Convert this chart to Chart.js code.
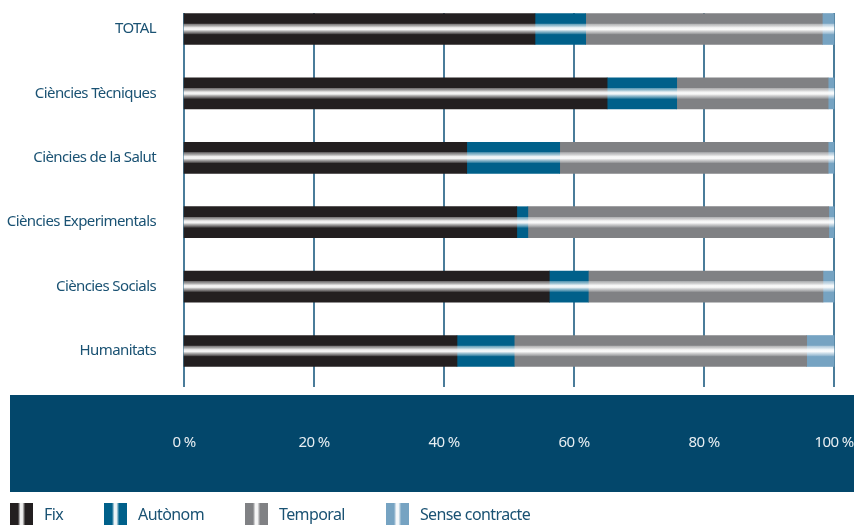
<!DOCTYPE html>
<html>
<head>
<meta charset="utf-8">
<script src="https://cdn.jsdelivr.net/npm/chart.js@4.4.1/dist/chart.umd.min.js"></script>
<style>
  html, body { margin: 0; padding: 0; background: #ffffff; }
  #wrap { position: relative; width: 854px; height: 525px; overflow: hidden; }
  #legend { position: absolute; left: 10px; top: 503px; display: flex; align-items: center; height: 22px;
    font-family: "Noto Sans", Roboto, sans-serif; letter-spacing: -0.6px;
    font-size: 16px; color: #1a5273; }
  .item { display: flex; align-items: center; margin-right: 41px; }
  .icon { width: 23px; height: 22px; margin-right: 11px; }
</style>
</head>
<body>
<div id="wrap">
  <canvas id="c" width="854" height="525"></canvas>
  <div id="legend"></div>
</div>
<script>
const categories = ["TOTAL", "Ciències Tècniques", "Ciències de la Salut", "Ciències Experimentals", "Ciències Socials", "Humanitats"];
const seriesNames = ["Fix", "Autònom", "Temporal", "Sense contracte"];
const fix      = [54.0, 65.1, 43.5, 51.2, 56.2, 42.0];
const autonom  = [7.8, 10.7, 14.3, 1.7, 6.0, 8.8];
const temporal = [36.4, 23.3, 41.3, 46.3, 36.1, 45.0];
const sense    = [1.8, 0.9, 0.9, 0.8, 1.7, 4.2];
const tickValues = [0, 20, 40, 60, 80, 100];
const tickLabels = ["0 %", "20 %", "40 %", "60 %", "80 %", "100 %"];

const colors = ["#231f20", "#00608a", "#808184", "#76a3c2"];
const FONT = '"Noto Sans", Roboto, sans-serif';
const BAR_T = 31;
const LETTER = '-0.6px';

function hexToRgb(h) { const n = parseInt(h.slice(1), 16); return [(n >> 16) & 255, (n >> 8) & 255, n & 255]; }
function mix(hex, t) { const [r, g, b] = hexToRgb(hex); const f = v => Math.round(v + (255 - v) * t); return `rgb(${f(r)},${f(g)},${f(b)})`; }
function addStops(g, c) {
  g.addColorStop(0, c); g.addColorStop(0.32, c);
  g.addColorStop(0.33, mix(c, 0.35)); g.addColorStop(0.40, mix(c, 0.62));
  g.addColorStop(0.46, mix(c, 0.93)); g.addColorStop(0.52, mix(c, 0.95));
  g.addColorStop(0.57, mix(c, 0.65)); g.addColorStop(0.63, mix(c, 0.35));
  g.addColorStop(0.67, mix(c, 0.12)); g.addColorStop(0.68, c); g.addColorStop(1, c);
}
function stripe(c) {
  return (ctx) => {
    const chart = ctx.chart;
    if (!chart.chartArea || ctx.type !== 'data') return c;
    const y = chart.scales.y.getPixelForValue(ctx.dataIndex);
    const g = chart.ctx.createLinearGradient(0, y - BAR_T / 2, 0, y + BAR_T / 2);
    addStops(g, c);
    return g;
  };
}

const seriesData = [fix, autonom, temporal, sense];
const datasets = seriesData.map((d, i) => ({
  label: seriesNames[i], data: d, backgroundColor: stripe(colors[i]), borderWidth: 0,
  barThickness: BAR_T, clip: false
}));

const bandPlugin = {
  id: 'band',
  beforeUpdate(chart) { chart.ctx.letterSpacing = LETTER; },
  beforeDraw(chart) {
    const c = chart.ctx;
    c.letterSpacing = LETTER;
    c.save(); c.fillStyle = '#03476b'; c.fillRect(10, 395, 844, 97); c.restore();
  },
  beforeDatasetsDraw(chart) {
    const c = chart.ctx, xs = chart.scales.x;
    c.save(); c.strokeStyle = '#4a7c9a'; c.lineWidth = 2;
    tickValues.forEach(v => {
      const x = Math.round(xs.getPixelForValue(v));
      c.beginPath(); c.moveTo(x, 13); c.lineTo(x, 387); c.stroke();
    });
    c.restore();
  }
};

const tickFont = { family: FONT, size: 15, lineHeight: 1.2 };

new Chart(document.getElementById('c'), {
  type: 'bar',
  data: { labels: categories, datasets },
  plugins: [bandPlugin],
  options: {
    indexAxis: 'y', responsive: false, animation: false,
    layout: { padding: { top: 29, right: 20, bottom: 73, left: 0 } },
    plugins: { legend: { display: false }, tooltip: { enabled: false } },
    scales: {
      x: {
        stacked: true, min: 0, max: 100,
        afterBuildTicks: (s) => { s.ticks = tickValues.map(v => ({ value: v })); },
        afterFit: (s) => { s.paddingLeft = 0; s.paddingRight = 0; },
        ticks: { callback: (v) => tickLabels[tickValues.indexOf(v)], padding: 0, color: '#e8eef2',
          font: tickFont, maxRotation: 0, autoSkip: false },
        grid: { display: false, drawTicks: true, tickLength: 83 }, border: { display: false }
      },
      y: {
        stacked: true, offset: false,
        afterFit: (s) => { s.width = 184; },
        ticks: { padding: 0, color: '#1a5273', font: tickFont },
        grid: { display: false, drawTicks: true, tickLength: 28 }, border: { display: false }
      }
    }
  }
});

const leg = document.getElementById('legend');
seriesNames.forEach((n, i) => {
  const it = document.createElement('div'); it.className = 'item';
  const ic = document.createElement('div'); ic.className = 'icon';
  const c = colors[i];
  ic.style.background = `linear-gradient(to right, ${c} 0%, ${c} 35%, ${mix(c, 0.5)} 40%, ${mix(c, 0.95)} 46%, ${mix(c, 0.9)} 55%, ${mix(c, 0.4)} 61%, ${c} 66%, ${c} 100%)`;
  const t = document.createElement('span'); t.textContent = n;
  it.appendChild(ic); it.appendChild(t); leg.appendChild(it);
});
</script>
</body>
</html>
